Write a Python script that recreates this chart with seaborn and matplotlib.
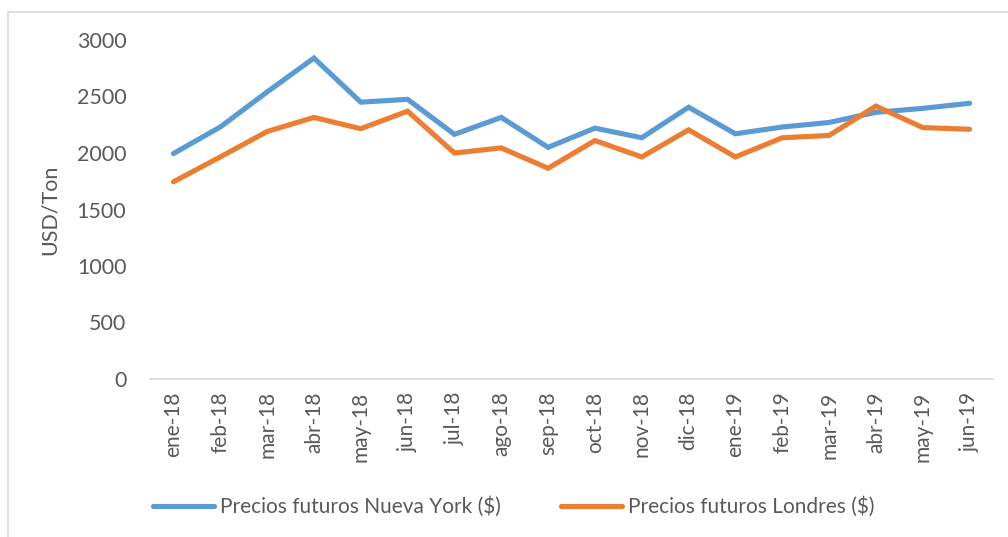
import matplotlib
matplotlib.use("Agg")
import matplotlib.pyplot as plt
from matplotlib.patches import Rectangle
from matplotlib.ticker import FixedLocator
import seaborn as sns
import pandas as pd

months = ["ene-18", "feb-18", "mar-18", "abr-18", "may-18", "jun-18",
          "jul-18", "ago-18", "sep-18", "oct-18", "nov-18", "dic-18",
          "ene-19", "feb-19", "mar-19", "abr-19", "may-19", "jun-19"]
nueva_york = [1995, 2230, 2540, 2840, 2450, 2475, 2165, 2315, 2050, 2220,
              2135, 2405, 2170, 2230, 2270, 2360, 2395, 2440]
londres = [1745, 1965, 2190, 2315, 2215, 2370, 2000, 2045, 1865, 2110,
           1965, 2205, 1965, 2135, 2155, 2415, 2225, 2210]
series_names = ["Precios futuros Nueva York ($)", "Precios futuros Londres ($)"]
colors = ["#5B9BD5", "#ED7D31"]
y_ticks = [0, 500, 1000, 1500, 2000, 2500, 3000]

df = pd.DataFrame({
    "mes": months * 2,
    "precio": nueva_york + londres,
    "serie": [series_names[0]] * len(months) + [series_names[1]] * len(months),
})

sns.set_style("white")
plt.rcParams["font.family"] = ["Lato", "DejaVu Sans"]
txt = "#595959"

fig = plt.figure(figsize=(10.08, 5.37), dpi=100)
ax = fig.add_axes([150 / 1008, 1 - 379 / 537, (993 - 150) / 1008, (379 - 40) / 537])

sns.lineplot(data=df, x="mes", y="precio", hue="serie", palette=colors,
             linewidth=3.7, sort=False, ax=ax, legend=True,
             solid_capstyle="round", solid_joinstyle="miter")

ax.set_xlim(-0.5, len(months) - 0.5)
ax.set_ylim(0, 3000)
ax.set_yticks(y_ticks)
ax.set_yticklabels([str(v) for v in y_ticks])
ax.set_xticks(range(len(months)))
ax.set_xticklabels(months, rotation=90)
ax.xaxis.set_minor_locator(FixedLocator([i - 0.5 for i in range(len(months) + 1)]))
ax.tick_params(axis="x", which="major", length=0, pad=9, labelsize=15, labelcolor=txt)
ax.tick_params(axis="x", which="minor", length=7, width=1.2, color="#D9D9D9", direction="out")
ax.tick_params(axis="y", length=0, pad=17, labelsize=15.5, labelcolor=txt)

for s in ["top", "right", "left"]:
    ax.spines[s].set_visible(False)
ax.spines["bottom"].set_color("#D9D9D9")
ax.spines["bottom"].set_linewidth(1.2)

ax.set_xlabel("")
ax.set_ylabel("USD/Ton", fontsize=15.5, color=txt, labelpad=12)

handles, labels = ax.get_legend_handles_labels()
for h in handles:
    h.set_solid_capstyle("round")
ax.legend_.remove()
fig.legend(handles, labels, loc="center", bbox_to_anchor=(514 / 1008, 1 - 507 / 537),
           ncol=2, frameon=False, fontsize=15, labelcolor=txt, handlelength=2.9,
           handletextpad=0.3, columnspacing=2.9)

# outer chart border (left/top visible in the crop)
fig.add_artist(Rectangle((7.5 / 1008, -0.1), 1.2, 1 - 12 / 537 + 0.1,
                         transform=fig.transFigure, fill=False,
                         edgecolor="#D9D9D9", linewidth=1.2))

fig.savefig("out.png", dpi=100)
